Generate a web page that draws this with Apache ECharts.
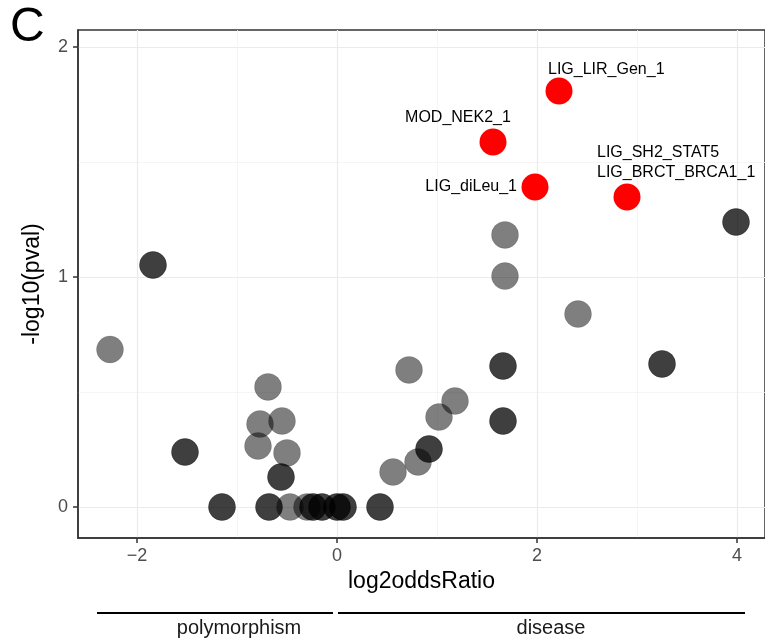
<!DOCTYPE html>
<html>
<head>
<meta charset="utf-8">
<script src="https://cdn.jsdelivr.net/npm/echarts@6/dist/echarts.min.js"></script>
<style>
  html, body { margin: 0; padding: 0; background: #fff; }
  #volcanoChart { width: 765px; height: 638px; }
</style>
</head>
<body>
<div id="volcanoChart"></div>
<script>
// motifs not significant (alpha points, repeated rows stack darker)
var grayX = [-2.27, -1.84, -1.84, -1.52, -1.52, -1.15, -1.15,
    -0.69, -0.77, -0.55, -0.79, -0.50, -0.56, -0.56, -0.68, -0.68,
    -0.47, -0.30, -0.24, -0.24, -0.15, -0.15, 0.00, 0.00, 0.06, 0.06,
    0.43, 0.43, 0.56, 0.81, 0.92, 0.92, 0.72, 1.02, 1.18,
    1.66, 1.66, 1.66, 1.66, 1.68, 1.68, 2.41, 3.99, 3.99, 3.25, 3.25];
var grayY = [0.685, 1.052, 1.052, 0.239, 0.239, 0, 0,
    0.522, 0.361, 0.374, 0.265, 0.235, 0.13, 0.13, 0, 0,
    0, 0, 0, 0, 0, 0, 0, 0, 0, 0,
    0, 0, 0.152, 0.196, 0.252, 0.252, 0.596, 0.391, 0.461,
    0.613, 0.613, 0.374, 0.374, 1.183, 1.004, 0.839, 1.239, 1.239, 0.622, 0.622];

// significant motifs
var redX = [2.22, 1.56, 1.98, 2.90];
var redY = [1.809, 1.587, 1.391, 1.348];
var redLabels = ['LIG_LIR_Gen_1', 'MOD_NEK2_1', 'LIG_diLeu_1', 'LIG_SH2_STAT5\nLIG_BRCT_BRCA1_1'];

var xTicks = [-2, 0, 2, 4];
var xMinor = [-1, 1, 3];
var yTicks = [0, 1, 2];
var yMinor = [0.5, 1.5];

// label placement for the red points (align, dx, dy)
var labelPlace = [
    ['left', -11, -21],
    ['center', -35, -24],
    ['right', -18, 0],
    ['left', -30, -34]
];

var fontFam = '"Liberation Sans", Arial, Helvetica, sans-serif';

var grayData = [];
for (let i = 0; i < grayX.length; i++) {
    grayData.push([grayX[i], grayY[i]]);
}
var redData = [];
for (let i = 0; i < redX.length; i++) {
    redData.push({
        value: [redX[i], redY[i]],
        name: redLabels[i],
        label: {
            show: true,
            position: 'inside',
            formatter: '{b}',
            align: labelPlace[i][0],
            verticalAlign: 'middle',
            offset: [labelPlace[i][1], labelPlace[i][2]],
            color: '#000',
            fontSize: 16,
            lineHeight: 20,
            fontFamily: fontFam
        }
    });
}

function minusFmt(v) {
    return v < 0 ? '\u2212' + Math.abs(v) : String(v);
}

var xMin = -2.59, xMax = 4.28;
var yMin = -0.135, yMax = 2.074;

var chart = echarts.init(document.getElementById('volcanoChart'));
var option = {
    animation: false,
    grid: {
        left: 78, right: 0, top: 30, bottom: 100,
        show: true,
        backgroundColor: '#fff',
        borderColor: '#333',
        borderWidth: 1.5
    },
    xAxis: [
        {
            type: 'value', min: xMin, max: xMax,
            name: 'log2oddsRatio', nameLocation: 'middle', nameGap: 30,
            nameTextStyle: { fontSize: 23, color: '#000', fontFamily: fontFam },
            axisLine: { show: true, onZero: false, lineStyle: { color: '#333', width: 1.5 } },
            axisTick: { show: true, length: 5, customValues: xTicks, lineStyle: { color: '#333', width: 1.5 } },
            axisLabel: { customValues: xTicks, formatter: minusFmt, fontSize: 18, color: '#4d4d4d', margin: 9, fontFamily: fontFam },
            splitLine: { show: true, lineStyle: { color: '#ebebeb', width: 1.2 } }
        },
        {
            type: 'value', min: xMin, max: xMax,
            axisLine: { show: false },
            axisTick: { show: false, customValues: xMinor },
            axisLabel: { show: false, customValues: xMinor },
            splitLine: { show: true, lineStyle: { color: '#f3f3f3', width: 0.8 } }
        }
    ],
    yAxis: [
        {
            type: 'value', min: yMin, max: yMax,
            name: '-log10(pval)', nameLocation: 'middle', nameGap: 34,
            nameTextStyle: { fontSize: 23, color: '#000', fontFamily: fontFam },
            axisLine: { show: true, onZero: false, lineStyle: { color: '#333', width: 1.5 } },
            axisTick: { show: true, length: 5, customValues: yTicks, lineStyle: { color: '#333', width: 1.5 } },
            axisLabel: { customValues: yTicks, fontSize: 18, color: '#4d4d4d', margin: 10, fontFamily: fontFam },
            splitLine: { show: true, lineStyle: { color: '#ebebeb', width: 1.2 } }
        },
        {
            type: 'value', min: yMin, max: yMax,
            axisLine: { show: false },
            axisTick: { show: false, customValues: yMinor },
            axisLabel: { show: false, customValues: yMinor },
            splitLine: { show: true, lineStyle: { color: '#f3f3f3', width: 0.8 } }
        }
    ],
    series: [
        {
            type: 'scatter',
            symbolSize: 27,
            itemStyle: { color: 'rgba(0,0,0,0.5)', opacity: 1, borderColor: 'rgba(0,0,0,0.12)', borderWidth: 1 },
            data: grayData
        },
        {
            type: 'scatter',
            symbolSize: 27,
            itemStyle: { color: '#ff0000', opacity: 1 },
            data: redData
        }
    ],
    graphic: [
        { type: 'text', left: 10, top: 4, style: { text: 'C', fontSize: 48, fill: '#000', fontFamily: fontFam } },
        { type: 'line', shape: { x1: 97, y1: 613, x2: 333, y2: 613 }, style: { stroke: '#000', lineWidth: 2 } },
        { type: 'line', shape: { x1: 338, y1: 613, x2: 745, y2: 613 }, style: { stroke: '#000', lineWidth: 2 } },
        { type: 'text', x: 239, y: 628, style: { text: 'polymorphism', fontSize: 20, fill: '#1a1a1a', align: 'center', verticalAlign: 'middle', fontFamily: fontFam } },
        { type: 'text', x: 551, y: 628, style: { text: 'disease', fontSize: 20, fill: '#1a1a1a', align: 'center', verticalAlign: 'middle', fontFamily: fontFam } }
    ]
};
chart.setOption(option);
</script>
</body>
</html>
